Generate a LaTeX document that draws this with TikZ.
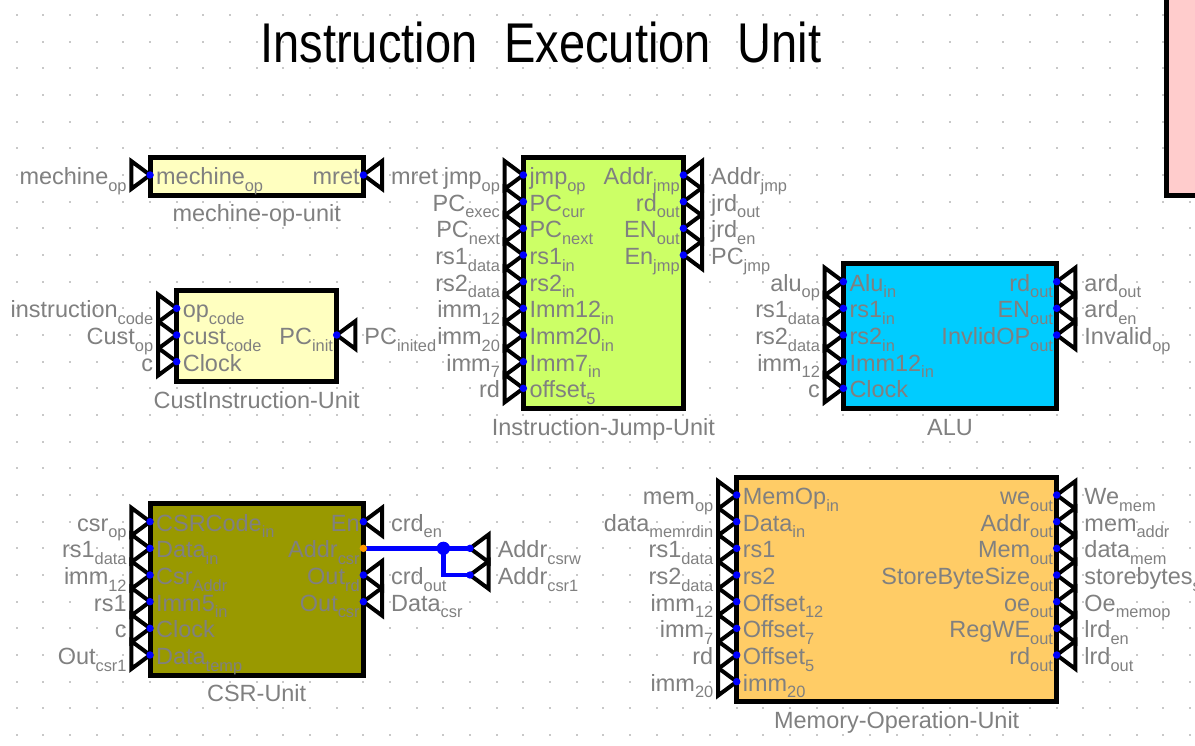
\documentclass[tikz,border=0pt]{standalone}
\usepackage{fontspec}
\setmainfont{Liberation Sans}
\usepackage{graphicx}
\usepackage{tikz}

\definecolor{labelgray}{RGB}{128,128,128}
\definecolor{griddot}{RGB}{200,200,200}
\definecolor{mechinefill}{RGB}{255,255,192}
\definecolor{jumpfill}{RGB}{204,255,102}
\definecolor{alufill}{RGB}{0,204,255}
\definecolor{csrfill}{RGB}{153,153,0}
\definecolor{memfill}{RGB}{255,204,102}
\definecolor{pinkfill}{RGB}{255,204,204}
\definecolor{portblue}{RGB}{0,0,255}
\definecolor{portorange}{RGB}{255,153,0}

\newcommand{\pinfont}{\fontsize{17.6}{21}\selectfont}
\newcommand{\subtxt}[1]{\raisebox{-5pt}{\fontsize{12.3}{14}\selectfont #1}}

\tikzset{
    pinlabel/.style={text=labelgray, font=\pinfont, inner sep=0pt},
    unitlabel/.style={text=labelgray, font=\pinfont, inner sep=0pt, anchor=base},
    unitbox/.style={draw=black, line width=3.75pt},
    pintri/.style={draw=black, line width=3pt, fill=white},
    wire/.style={draw=portblue, line width=3.5pt},
}

% input port: name, x, y, inner text, outer text
\newcommand{\inport}[5]{%
    \coordinate (#1) at (#2,#3);
    \draw[pintri] (#2-0.7,#3-0.52) -- (#1) -- (#2-0.7,#3+0.52) -- cycle;
    \node[pinlabel, anchor=base west] (#1-in) at (#2+0.22,#3+0.36) {#4};
    \node[pinlabel, anchor=base east] (#1-out) at (#2-0.87,#3+0.36) {#5};
    \fill[portblue] (#1) circle (2.8pt);}
% output side triangle: name, x, y, outer text
\newcommand{\outtri}[4]{%
    \coordinate (#1) at (#2,#3);
    \draw[pintri] (#2+0.7,#3-0.52) -- (#1) -- (#2+0.7,#3+0.52) -- cycle;
    \node[pinlabel, anchor=base west] (#1-out) at (#2+1.03,#3+0.36) {#4};
    \fill[portblue] (#1) circle (2.8pt);}
% output port: name, x, y, inner text, outer text
\newcommand{\outport}[5]{%
    \outtri{#1}{#2}{#3}{#5}
    \node[pinlabel, anchor=base east] (#1-in) at (#2-0.13,#3+0.36) {#4};}

\begin{document}
\begin{tikzpicture}[x=20pt, y=-20pt]
    \useasboundingbox (-0.626,-0.5625) rectangle (44.186,27.375);
    % grid
    \foreach \i in {0,...,44} {
        \foreach \j in {0,...,27} {
            \fill[griddot] (\i-0.04,\j-0.04) rectangle (\i+0.04,\j+0.04);
        }
    }
    \node[anchor=base, inner sep=0pt] (title) at (19.66,1.8)
        {\scalebox{0.84}[1]{\fontsize{42}{48}\selectfont Instruction\hspace{24pt}Execution\hspace{24pt}Unit}};
    \draw[unitbox, fill=pinkfill] (43.125,-2) rectangle (46,6.75);

    % mechine-op-unit
    \draw[unitbox, fill=mechinefill] (5,5.33) rectangle (13,6.75);
    \node[unitlabel] (mechine) at (9,7.75) {mechine-op-unit};
    \inport{mech-op}{5}{6}{mechine\subtxt{op}}{mechine\subtxt{op}}
    \outport{mech-ret}{13}{6}{mret}{mret}

    % CustInstruction-Unit
    \draw[unitbox, fill=mechinefill] (6,10.33) rectangle (12,13.75);
    \node[unitlabel] (cust) at (9,14.75) {CustInstruction-Unit};
    \inport{cust-op}{6}{11}{op\subtxt{code}}{instruction\subtxt{code}}
    \inport{cust-code}{6}{12}{cust\subtxt{code}}{Cust\subtxt{op}}
    \inport{cust-clk}{6}{13}{Clock}{c}
    \outport{cust-pc}{12}{12}{PC\subtxt{init}}{PC\subtxt{inited}}

    % Instruction-Jump-Unit
    \draw[unitbox, fill=jumpfill] (19,5.33) rectangle (25,14.75);
    \node[unitlabel] (jump) at (22,15.75) {Instruction-Jump-Unit};
    \inport{jump-op}{19}{6}{jmp\subtxt{op}}{jmp\subtxt{op}}
    \inport{jump-cur}{19}{7}{PC\subtxt{cur}}{PC\subtxt{exec}}
    \inport{jump-next}{19}{8}{PC\subtxt{next}}{PC\subtxt{next}}
    \inport{jump-rs1}{19}{9}{rs1\subtxt{in}}{rs1\subtxt{data}}
    \inport{jump-rs2}{19}{10}{rs2\subtxt{in}}{rs2\subtxt{data}}
    \inport{jump-i12}{19}{11}{Imm12\subtxt{in}}{imm\subtxt{12}}
    \inport{jump-i20}{19}{12}{Imm20\subtxt{in}}{imm\subtxt{20}}
    \inport{jump-i7}{19}{13}{Imm7\subtxt{in}}{imm\subtxt{7}}
    \inport{jump-off}{19}{14}{offset\subtxt{5}}{rd}
    \outport{jump-addr}{25}{6}{Addr\subtxt{jmp}}{Addr\subtxt{jmp}}
    \outport{jump-rd}{25}{7}{rd\subtxt{out}}{jrd\subtxt{out}}
    \outport{jump-en}{25}{8}{EN\subtxt{out}}{jrd\subtxt{en}}
    \outport{jump-pc}{25}{9}{En\subtxt{jmp}}{PC\subtxt{jmp}}

    % ALU
    \draw[unitbox, fill=alufill] (31,9.33) rectangle (39,14.75);
    \node[unitlabel] (alu) at (35,15.75) {ALU};
    \inport{alu-op}{31}{10}{Alu\subtxt{in}}{alu\subtxt{op}}
    \inport{alu-rs1}{31}{11}{rs1\subtxt{in}}{rs1\subtxt{data}}
    \inport{alu-rs2}{31}{12}{rs2\subtxt{in}}{rs2\subtxt{data}}
    \inport{alu-i12}{31}{13}{Imm12\subtxt{in}}{imm\subtxt{12}}
    \inport{alu-clk}{31}{14}{Clock}{c}
    \outport{alu-rd}{39}{10}{rd\subtxt{out}}{ard\subtxt{out}}
    \outport{alu-en}{39}{11}{EN\subtxt{out}}{ard\subtxt{en}}
    \outport{alu-inv}{39}{12}{InvlidOP\subtxt{out}}{Invalid\subtxt{op}}

    % CSR-Unit
    \draw[unitbox, fill=csrfill] (5,18.33) rectangle (13,24.75);
    \node[unitlabel] (csr) at (9,25.75) {CSR-Unit};
    \inport{csr-op}{5}{19}{CSRCode\subtxt{in}}{csr\subtxt{op}}
    \inport{csr-data}{5}{20}{Data\subtxt{in}}{rs1\subtxt{data}}
    \inport{csr-ad}{5}{21}{Csr\subtxt{Addr}}{imm\subtxt{12}}
    \inport{csr-i5}{5}{22}{Imm5\subtxt{in}}{rs1}
    \inport{csr-clk}{5}{23}{Clock}{c}
    \inport{csr-tmp}{5}{24}{Data\subtxt{temp}}{Out\subtxt{csr1}}
    \outport{csr-en}{13}{19}{En}{crd\subtxt{en}}
    \outport{csr-rd}{13}{21}{Out\subtxt{rd}}{crd\subtxt{out}}
    \outport{csr-out}{13}{22}{Out\subtxt{csr}}{Data\subtxt{csr}}
    \coordinate (csr-addr) at (13,20);
    \coordinate (csr-j) at (16,20);
    \coordinate (csr-w) at (17,20);
    \coordinate (csr-1) at (17,21);
    \draw[wire] (csr-addr) -- (csr-w);
    \draw[wire] (csr-j) |- (csr-1);
    \node[pinlabel, anchor=base east] (csr-addr-in) at (12.87,20.36) {Addr\subtxt{csr}};
    \outtri{csr-w}{17}{20}{Addr\subtxt{csrw}}
    \outtri{csr-1}{17}{21}{Addr\subtxt{csr1}}
    \fill[portblue] (csr-j) circle (5pt);
    \fill[portorange] (csr-addr) circle (2.8pt);

    % Memory-Operation-Unit
    \draw[unitbox, fill=memfill] (27,17.33) rectangle (39,25.75);
    \node[unitlabel] (memop) at (33,26.75) {Memory-Operation-Unit};
    \inport{mem-op}{27}{18}{MemOp\subtxt{in}}{mem\subtxt{op}}
    \inport{mem-data}{27}{19}{Data\subtxt{in}}{data\subtxt{memrdin}}
    \inport{mem-rs1}{27}{20}{rs1}{rs1\subtxt{data}}
    \inport{mem-rs2}{27}{21}{rs2}{rs2\subtxt{data}}
    \inport{mem-o12}{27}{22}{Offset\subtxt{12}}{imm\subtxt{12}}
    \inport{mem-o7}{27}{23}{Offset\subtxt{7}}{imm\subtxt{7}}
    \inport{mem-o5}{27}{24}{Offset\subtxt{5}}{rd}
    \inport{mem-i20}{27}{25}{imm\subtxt{20}}{imm\subtxt{20}}
    \outport{mem-we}{39}{18}{we\subtxt{out}}{We\subtxt{mem}}
    \outport{mem-addr}{39}{19}{Addr\subtxt{out}}{mem\subtxt{addr}}
    \outport{mem-mem}{39}{20}{Mem\subtxt{out}}{data\subtxt{mem}}
    \outport{mem-sbs}{39}{21}{StoreByteSize\subtxt{out}}{storebytes\subtxt{size}}
    \outport{mem-oe}{39}{22}{oe\subtxt{out}}{Oe\subtxt{memop}}
    \outport{mem-rwe}{39}{23}{RegWE\subtxt{out}}{lrd\subtxt{en}}
    \outport{mem-rd}{39}{24}{rd\subtxt{out}}{lrd\subtxt{out}}
\end{tikzpicture}
\end{document}
